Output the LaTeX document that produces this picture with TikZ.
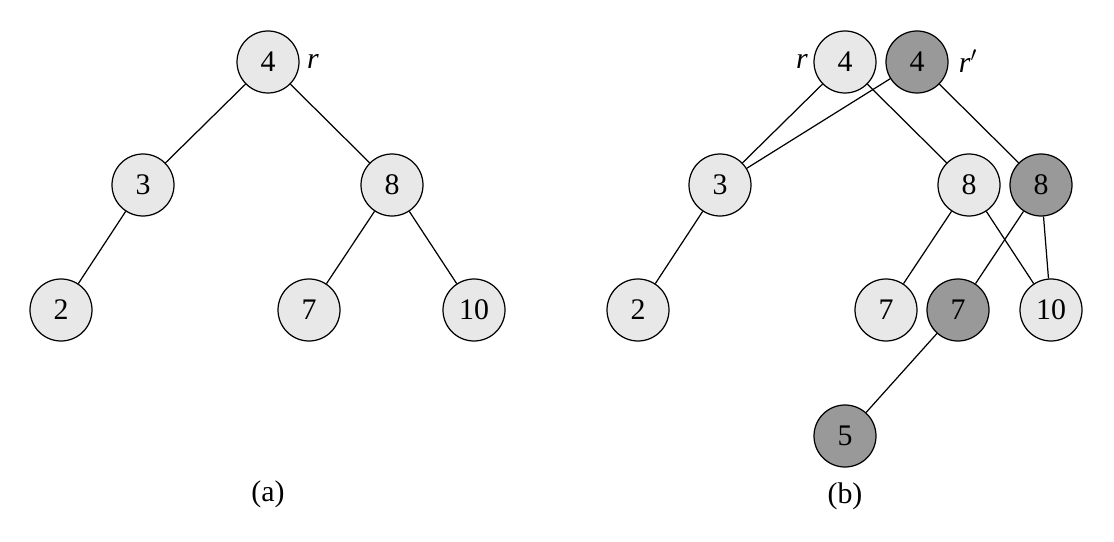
\documentclass[tikz,border=0pt]{standalone}
\usepackage{fontspec}
\setmainfont{Liberation Serif}
\usepackage{tikz}
\usetikzlibrary{positioning}
\usepackage{xcolor}

\definecolor{keylight}{gray}{0.91}
\definecolor{keydark}{gray}{0.60}

\tikzset{
  key/.style={circle, draw, line width=0.7pt, fill=keylight, minimum size=1.24cm, inner sep=0pt, font=\fontsize{17}{20}\selectfont},
  newkey/.style={key, fill=keydark},
  link/.style={line width=0.7pt},
  caption/.style={font=\fontsize{17}{20}\selectfont}
}

\begin{document}
\begin{tikzpicture}[scale=1.0]
    \useasboundingbox (0,0) rectangle (22.28,10.82);

    % (a) original tree
    \node[key] (a4) at (5.36, 9.58) {4};
    \node[caption] (ar) at (6.26, 9.60) {\textit{r}};
    \node[key] (a3) at (2.86, 7.12) {3};
    \node[key] (a8) at (7.84, 7.12) {8};
    \node[key] (a2) at (1.22, 4.62) {2};
    \node[key] (a7) at (6.18, 4.62) {7};
    \node[key] (a10) at (9.48, 4.62) {10};
    \draw[link] (a4) -- (a3);
    \draw[link] (a4) -- (a8);
    \draw[link] (a3) -- (a2);
    \draw[link] (a8) -- (a7);
    \draw[link] (a8) -- (a10);
    \node[caption] (acap) at (5.36, 0.94) {(a)};

    % (b) after inserting 5, new path shaded
    \node[caption] (br) at (16.04, 9.60) {\textit{r}};
    \node[key] (b4) at (16.90, 9.58) {4};
    \node[newkey] (c4) at (18.34, 9.58) {4};
    \node[caption] (bs) at (19.36, 9.60) {\textit{r}$'$};
    \node[key] (b3) at (14.40, 7.12) {3};
    \node[key] (b8) at (19.38, 7.12) {8};
    \node[newkey] (c8) at (20.82, 7.12) {8};
    \node[key] (b2) at (12.76, 4.62) {2};
    \node[key] (b7) at (17.72, 4.62) {7};
    \node[newkey] (c7) at (19.16, 4.62) {7};
    \node[key] (b10) at (21.02, 4.62) {10};
    \node[newkey] (c5) at (16.90, 2.10) {5};
    \draw[link] (b4) -- (b3);
    \draw[link] (b4) -- (b8);
    \draw[link] (c4) -- (b3);
    \draw[link] (c4) -- (c8);
    \draw[link] (b3) -- (b2);
    \draw[link] (b8) -- (b7);
    \draw[link] (b8) -- (b10);
    \draw[link] (c8) -- (c7);
    \draw[link] (c8) -- (b10);
    \draw[link] (c7) -- (c5);
    \node[caption] (bcap) at (16.90, 0.90) {(b)};
\end{tikzpicture}
\end{document}
